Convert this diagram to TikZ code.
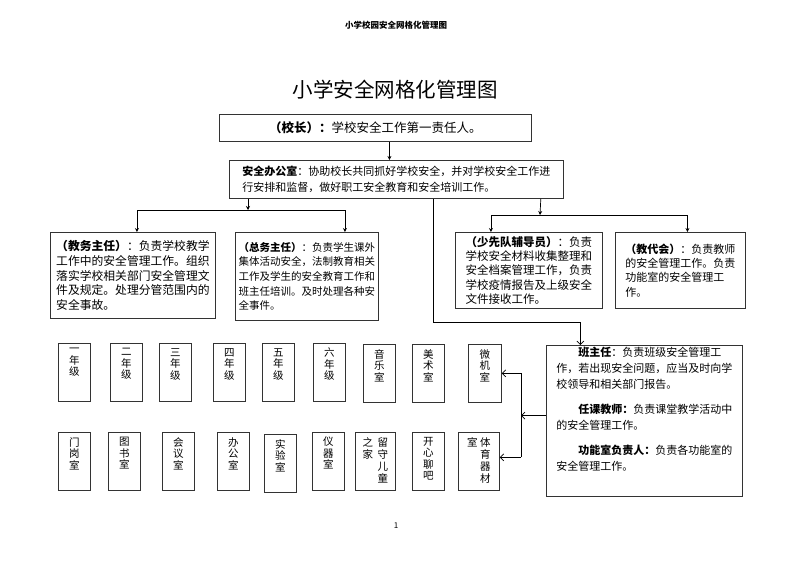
\documentclass[tikz,border=0pt]{standalone}
\usepackage{fontspec}
\setmainfont{Noto Sans CJK SC}
\usepackage{tikz}
\usetikzlibrary{positioning, arrows.meta, calc}

\newcommand{\fs}[2]{\fontsize{#1}{#2}\selectfont}

\begin{document}
\begin{tikzpicture}[
    x=1pt, y=-1pt,
    box/.style={rectangle, draw=black!80, line width=0.8pt, anchor=north west,
                align=left, inner sep=2pt},
    room/.style={rectangle, draw=black!80, line width=0.8pt, anchor=north west,
                 minimum width=32pt, minimum height=58pt, inner sep=0pt},
    rlab/.style={anchor=north, yshift=-5pt, inner sep=0pt, align=center,
                 font=\fs{10.5}{11.5}},
    arr/.style={-{Stealth[length=4pt, width=4pt]}, line width=0.7pt},
    barb/.style={-{Straight Barb[length=3.5pt, width=7pt]}, line width=0.7pt}
]
    \useasboundingbox (0,0) rectangle (792,560);

    % Titles
    \node[font=\fs{8.5}{10}\bfseries] (head) at (396,25) {小学校园安全网格化管理图};
    \node[font=\fs{20.5}{24}] (title) at (395,90) {小学安全网格化管理图};
    \node[font=\fs{8}{10}] (page) at (396,526) {1};

    % Top levels
    \node[box, minimum width=312pt, minimum height=27pt, align=center,
          font=\fs{12.5}{15}] (zhang) at (219,114)
          {\textbf{（校长）：}学校安全工作第一责任人。};
    \node[box, minimum width=334pt, minimum height=38pt, font=\fs{11}{16}]
          (office) at (229,160)
          {\textbf{安全办公室}：协助校长共同抓好学校安全，并对学校安全工作进\\
           行安排和监督，做好职工安全教育和安全培训工作。};

    \draw[arr] ([xshift=14pt]zhang.south) -- ([xshift=-7pt]office.north);

    % Second level
    \node[box, minimum width=165pt, minimum height=86pt, font=\fs{11.8}{14.7}]
          (jiaowu) at (50,232)
          {\textbf{（教务主任）}：负责学校教学\\
           工作中的安全管理工作。组织\\
           落实学校相关部门安全管理文\\
           件及规定。处理分管范围内的\\
           安全事故。};
    \node[box, minimum width=143pt, minimum height=88pt, font=\fs{10.5}{14.7}]
          (zongwu) at (235,232)
          {\textbf{（总务主任）}：负责学生课外\\
           集体活动安全，法制教育相关\\
           工作及学生的安全教育工作和\\
           班主任培训。及时处理各种安\\
           全事件。};
    \node[box, minimum width=147pt, minimum height=76pt, font=\fs{11.5}{14.2}]
          (shaoxian) at (455,232)
          {\textbf{（少先队辅导员）}：负责\\
           学校安全材料收集整理和\\
           安全档案管理工作，负责\\
           学校疫情报告及上级安全\\
           文件接收工作。};
    \node[box, minimum width=130pt, minimum height=76pt, font=\fs{11}{14.2}]
          (jiaodai) at (615,232)
          {\textbf{（教代会）}：负责教师\\
           的安全管理工作。负责\\
           功能室的安全管理工\\
           作。};

    \coordinate (lbar) at (248,210);
    \coordinate (rbar) at (540,215);
    \draw[arr] ([xshift=19pt]office.south west) -- (lbar);
    \draw[arr] (lbar) -| ([xshift=4pt]jiaowu.north);
    \draw[arr] (lbar) -| ([xshift=38pt]zongwu.north);
    \draw[arr] ([xshift=-23pt]office.south east) -- (rbar);
    \draw[arr] (rbar) -| ([xshift=-38pt]shaoxian.north);
    \draw[arr] (rbar) -| ([xshift=7pt]jiaodai.north);

    % Class teacher box
    \node[box, minimum width=196pt, minimum height=147pt, font=\fs{11}{16}]
          (banzhu) at (546,345)
          {\hspace*{2em}\textbf{班主任}：负责班级安全管理工\\
           作，若出现安全问题，应当及时向学\\
           校领导和相关部门报告。\\[9pt]
           \hspace*{2em}\textbf{任课教师：}负责课堂教学活动中\\
           的安全管理工作。\\[9pt]
           \hspace*{2em}\textbf{功能室负责人：}负责各功能室的\\
           安全管理工作。\\[8pt]};

    \draw[barb] ([xshift=204pt]office.south west) -- ++(0,124)
                -| ([xshift=-64pt]banzhu.north);

    % Rooms, first row
    \node[room, label={[rlab]north:一\\年\\级}] (g1) at (58,343) {};
    \node[room, label={[rlab]north:二\\年\\级}] (g2) at (110,343) {};
    \node[room, label={[rlab]north:三\\年\\级}] (g3) at (159,343) {};
    \node[room, label={[rlab]north:四\\年\\级}] (g4) at (213,343) {};
    \node[room, label={[rlab]north:五\\年\\级}] (g5) at (262,343) {};
    \node[room, label={[rlab]north:六\\年\\级}] (g6) at (313,343) {};
    \node[room, label={[rlab]north:音\\乐\\室}] (music) at (363,344) {};
    \node[room, label={[rlab]north:美\\术\\室}] (art) at (412,344) {};
    \node[room, minimum width=33pt, label={[rlab]north:微\\机\\室}] (weiji) at (468,344) {};

    % Rooms, second row
    \node[room, label={[rlab]north:门\\岗\\室}] (mengang) at (58,432) {};
    \node[room, label={[rlab]north:图\\书\\室}] (tushu) at (108,432) {};
    \node[room, label={[rlab]north:会\\议\\室}] (huiyi) at (162,432) {};
    \node[room, label={[rlab]north:办\\公\\室}] (bangong) at (217,432) {};
    \node[room, label={[rlab]north:实\\验\\室}] (shiyan) at (264,434) {};
    \node[room, label={[rlab]north:仪\\器\\室}] (yiqi) at (312,432) {};
    \node[room, minimum width=40pt,
          label={[rlab]north:\begin{tabular}{@{}c@{\hspace{4.5pt}}c@{}}
                 之&留\\家&守\\&儿\\&童\end{tabular}}] (liushou) at (355,432) {};
    \node[room, label={[rlab]north:开\\心\\聊\\吧}] (kaixin) at (412,432) {};
    \node[room, minimum width=41pt,
          label={[rlab]north:\begin{tabular}{@{}c@{\hspace{2.5pt}}c@{}}
                 室&体\\&育\\&器\\&材\end{tabular}}] (tiyu) at (458,432) {};

    % Links from the class teacher box
    \coordinate (rail) at (521,0);
    \draw[barb] ([yshift=5.5pt]banzhu.west) -- ([yshift=5.5pt]banzhu.west -| rail);
    \draw (weiji.east -| rail) -- ([yshift=4pt]tiyu.east -| rail);
    \draw[barb] (weiji.east -| rail) -- (weiji.east);
    \draw[barb] ([yshift=4pt]tiyu.east -| rail) -- ([yshift=4pt]tiyu.east);
\end{tikzpicture}
\end{document}
